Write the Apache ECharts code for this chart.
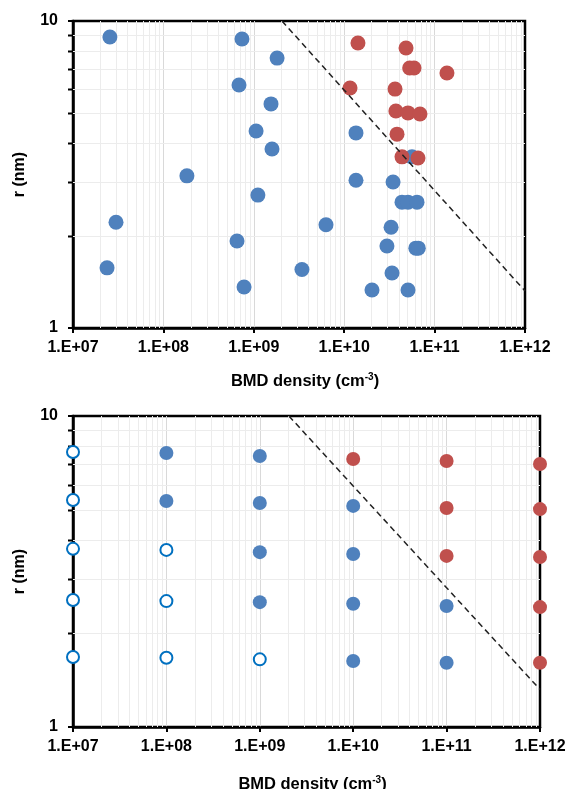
<!DOCTYPE html>
<html>
<head>
<meta charset="utf-8">
<script src="https://cdn.jsdelivr.net/npm/echarts@6/dist/echarts.min.js"></script>
<style>
html,body{margin:0;padding:0;background:#fff;}
#chart{width:568px;height:789px;}
</style>
</head>
<body>
<div id="chart"></div>
<script>
// ---------- Data ----------
// Top panel
var topBlueN = [2.56e7, 7.4e8, 1.81e9, 6.86e8, 1.55e9, 1.06e9, 1.59e9, 1.82e8, 1.11e9, 2.99e7, 6.52e8, 2.38e7, 7.8e8,
                1.35e10, 1.35e10, 3.47e10, 5.62e10, 4.36e10, 5.08e10, 6.39e10, 6.29e9, 3.3e10, 2.97e10, 6.2e10, 6.6e10,
                3.41e9, 3.38e10, 2.03e10, 5.08e10];
var topBlueR = [8.87, 8.74, 7.57, 6.19, 5.37, 4.38, 3.83, 3.13, 2.71, 2.21, 1.92, 1.57, 1.36,
                4.32, 3.03, 2.99, 3.61, 2.57, 2.57, 2.57, 2.17, 2.13, 1.85, 1.82, 1.82,
                1.55, 1.51, 1.33, 1.33];
var topRedN = [1.42e10, 4.83e10, 5.3e10, 5.92e10, 1.37e11, 1.16e10, 3.65e10, 3.73e10, 5.08e10, 6.89e10, 3.84e10, 4.36e10, 6.55e10];
var topRedR = [8.48, 8.17, 7.03, 7.03, 6.77, 6.05, 6.0, 5.09, 5.02, 4.98, 4.28, 3.61, 3.58];

// Bottom panel
var botHollowN = [1e7, 1e7, 1e7, 1e7, 1e7, 1e8, 1e8, 1e8, 1e9];
var botHollowR = [7.66, 5.37, 3.74, 2.56, 1.68, 3.71, 2.54, 1.67, 1.65];
var botBlueN = [1e8, 1e8, 1e9, 1e9, 1e9, 1e9, 1e10, 1e10, 1e10, 1e10, 1e11, 1e11];
var botBlueR = [7.60, 5.33, 7.44, 5.25, 3.65, 2.52, 5.14, 3.60, 2.49, 1.63, 2.45, 1.61];
var botRedN = [1e10, 1e11, 1e11, 1e11, 1e12, 1e12, 1e12, 1e12, 1e12];
var botRedR = [7.27, 7.17, 5.06, 3.55, 7.01, 5.02, 3.52, 2.43, 1.61];

// Dashed boundary line (r ~ n^-1/3)
var lineN = [2.05e9, 1e12];
var lineR = [10, 1.32];

// Axis ticks
var xMin = 1e7, xMax = 1e12, yMin = 1, yMax = 10;
var xTickLabels = {7: '1.E+07', 8: '1.E+08', 9: '1.E+09', 10: '1.E+10', 11: '1.E+11', 12: '1.E+12'};
var minorMultipliers = [2, 3, 4, 5, 6, 7, 8, 9];
var xDecades = [7, 8, 9, 10, 11];

// ---------- Build ----------
function zip(a, b) { return a.map(function (v, i) { return [v, b[i]]; }); }

var FONT = 'Liberation Sans, Arial, sans-serif';
var BLUE = '#4F81BD', RED = '#C0504D', HOLLOW = '#0070C0';

// minor grid items: [x, y, kind] kind 0 = vertical, 1 = horizontal
var minorItems = [];
xDecades.forEach(function (d) {
  minorMultipliers.forEach(function (m) { minorItems.push([m * Math.pow(10, d), yMin, 0]); });
});
minorMultipliers.forEach(function (m) { minorItems.push([xMin, m * yMin, 1]); });

function minorRender(params, api) {
  var kind = api.value(2);
  var children = [];
  var st = { stroke: '#ececec', lineWidth: 1 };
  if (kind === 0) {
    var x = api.value(0);
    var p1 = api.coord([x, yMin]), p2 = api.coord([x, yMax]);
    children.push({ type: 'line', shape: { x1: Math.round(p1[0]) + 0.5, y1: p1[1], x2: Math.round(p2[0]) + 0.5, y2: p2[1] }, style: st });
  } else {
    var y = api.value(1);
    var q1 = api.coord([xMin, y]), q2 = api.coord([xMax, y]);
    var yy = Math.round(q1[1]) + 0.5;
    children.push({ type: 'line', shape: { x1: q1[0], y1: yy, x2: q2[0], y2: yy }, style: st });
    children.push({ type: 'line', shape: { x1: q1[0] - 5, y1: yy, x2: q1[0], y2: yy }, style: { stroke: '#000', lineWidth: 2 } });
  }
  return { type: 'group', children: children };
}

function xAxisCfg(gi, gap) {
  return {
    type: 'log', gridIndex: gi, min: xMin, max: xMax, logBase: 10, splitNumber: 5,
    name: '{t|BMD density (cm}{s|-3}{t|)}', nameLocation: 'middle', nameGap: gap,
    nameTextStyle: {
      padding: [0, 0, 0, 12],
      rich: {
        t: { fontFamily: FONT, fontWeight: 'bold', fontSize: 16.5, color: '#000', lineHeight: 19 },
        s: { fontFamily: FONT, fontWeight: 'bold', fontSize: 10, color: '#000', verticalAlign: 'top', lineHeight: 19 }
      }
    },
    axisLine: { show: true, onZero: false, lineStyle: { color: '#000', width: 2.5 } },
    axisTick: { show: true, inside: false, length: 5, lineStyle: { color: '#000', width: 2 } },
    axisLabel: {
      margin: 12, fontFamily: FONT, fontWeight: 'bold', fontSize: 16, color: '#000',
      formatter: function (v) { return xTickLabels[Math.round(Math.log10(v))] || ''; }
    },
    splitLine: { show: true, showMinLine: false, showMaxLine: false, lineStyle: { color: '#d9d9d9', width: 1 } }
  };
}

function yAxisCfg(gi) {
  return {
    type: 'log', gridIndex: gi, min: yMin, max: yMax, logBase: 10,
    name: 'r (nm)', nameLocation: 'middle', nameGap: 45, nameRotate: 90,
    nameTextStyle: { fontFamily: FONT, fontWeight: 'bold', fontSize: 16, color: '#000' },
    axisLine: { show: true, onZero: false, lineStyle: { color: '#000', width: 2.5 } },
    axisTick: { show: true, inside: false, length: 5, lineStyle: { color: '#000', width: 2 } },
    axisLabel: {
      margin: 15, fontFamily: FONT, fontWeight: 'bold', fontSize: 16, color: '#000',
      formatter: function (v) { return String(Math.round(v)); }
    },
    splitLine: { show: false }
  };
}

function scatter(gi, data, color, size, hollow) {
  return {
    type: 'scatter', xAxisIndex: gi, yAxisIndex: gi, data: data, clip: false, z: hollow ? 4 : 3,
    symbol: 'circle', symbolSize: size,
    itemStyle: hollow ? { color: '#fff', borderColor: HOLLOW, borderWidth: 2, opacity: 1 }
                      : { color: color, opacity: 1 },
    emphasis: { disabled: true }
  };
}

function dashLine(gi) {
  return {
    type: 'line', xAxisIndex: gi, yAxisIndex: gi, data: zip(lineN, lineR), symbol: 'none', z: 6,
    lineStyle: { color: '#222', width: 1.5, type: [6, 4] }, silent: true
  };
}

function minorSeries(gi) {
  return {
    type: 'custom', xAxisIndex: gi, yAxisIndex: gi, data: minorItems, renderItem: minorRender,
    encode: { x: 0, y: 1 }, z: 1, silent: true, clip: false
  };
}

var chart = echarts.init(document.getElementById('chart'), null, { renderer: 'canvas' });
chart.setOption({
  animation: false,
  backgroundColor: '#fff',
  grid: [
    { left: 73, top: 21, width: 452, height: 307, show: true, borderColor: '#000', borderWidth: 2.5, containLabel: false, outerBoundsMode: 'none' },
    { left: 73, top: 416, width: 467, height: 311, show: true, borderColor: '#000', borderWidth: 2.5, containLabel: false, outerBoundsMode: 'none' }
  ],
  xAxis: [xAxisCfg(0, 44), xAxisCfg(1, 48)],
  yAxis: [yAxisCfg(0), yAxisCfg(1)],
  series: [
    minorSeries(0),
    minorSeries(1),
    scatter(0, zip(topBlueN, topBlueR), BLUE, 15, false),
    scatter(0, zip(topRedN, topRedR), RED, 15, false),
    dashLine(0),
    scatter(1, zip(botHollowN, botHollowR), null, 12, true),
    scatter(1, zip(botBlueN, botBlueR), BLUE, 14, false),
    scatter(1, zip(botRedN, botRedR), RED, 14, false),
    dashLine(1)
  ]
});
</script>
</body>
</html>
